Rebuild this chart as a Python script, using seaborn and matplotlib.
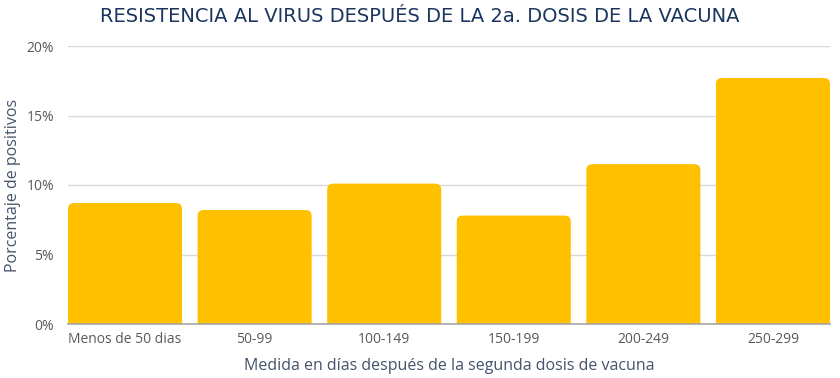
import numpy as np
import pandas as pd
import matplotlib
matplotlib.use("Agg")
import matplotlib.pyplot as plt
import seaborn as sns
from matplotlib.patches import FancyBboxPatch
from matplotlib.ticker import PercentFormatter

# ----------------------------- data ------------------------------------
categories = ["Menos de 50 dias", "50-99", "100-149", "150-199", "200-249", "250-299"]
positivos = [8.7, 8.2, 10.1, 7.8, 11.5, 17.7]
y_ticks = [0, 5, 10, 15, 20]

TITLE = "RESISTENCIA AL VIRUS DESPUÉS DE LA 2a. DOSIS DE LA VACUNA"
XLABEL = "Medida en días después de la segunda dosis de vacuna"
YLABEL = "Porcentaje de positivos"

BAR_COLOR = "#FFC000"
TITLE_COLOR = "#1B355E"
LABEL_COLOR = "#44546A"
TICK_COLOR = "#595959"
BAR_WIDTH = 0.88

sns.set_theme(style="white")
plt.rcParams["font.family"] = ["Open Sans", "DejaVu Sans"]

df = pd.DataFrame({"rango": categories, "pct": positivos})

fig = plt.figure(figsize=(8.4, 3.78), dpi=100)
ax = fig.add_axes([68 / 840, 1 - 324 / 378, (830 - 68) / 840, (324 - 46) / 378])

sns.barplot(data=df, x="rango", y="pct", color=BAR_COLOR, width=BAR_WIDTH,
            saturation=1, ax=ax, zorder=3)

ax.set_ylim(0, 20)
# bars run flush to both ends of the plot area
ax.set_xlim(-BAR_WIDTH / 2, len(categories) - 1 + BAR_WIDTH / 2)

# swap plain rectangles for ones with rounded top corners
fig.canvas.draw()
bb = ax.get_window_extent()
px_x = bb.width / (ax.get_xlim()[1] - ax.get_xlim()[0])
px_y = bb.height / (ax.get_ylim()[1] - ax.get_ylim()[0])
radius = 6 / px_x
for p in list(ax.patches):
    x, w, h = p.get_x(), p.get_width(), p.get_height()
    fb = FancyBboxPatch((x, -2), w, h + 2,
                        boxstyle=f"round,pad=0,rounding_size={radius}",
                        mutation_aspect=px_x / px_y,
                        facecolor=BAR_COLOR, edgecolor="none", zorder=3)
    ax.add_patch(fb)
    p.remove()

ax.set_yticks(y_ticks)
ax.yaxis.set_major_formatter(PercentFormatter(decimals=0))
ax.grid(axis="y", color="#D9D9D9", linewidth=1, zorder=0)
ax.grid(axis="x", visible=False)
for s in ["top", "right", "left"]:
    ax.spines[s].set_visible(False)
ax.spines["bottom"].set_color("#A6A6A6")
ax.spines["bottom"].set_linewidth(1.2)
ax.spines["bottom"].set_zorder(4)

ax.tick_params(axis="both", length=0, labelsize=10, colors=TICK_COLOR)
ax.tick_params(axis="y", pad=10)
ax.tick_params(axis="x", pad=6)

ax.set_xlabel(XLABEL, fontsize=11.5, color=LABEL_COLOR, labelpad=8)
ax.set_ylabel(YLABEL, fontsize=11.5, color=LABEL_COLOR, labelpad=4)

fig.text(0.5, 1 - 16 / 378, TITLE, ha="center", va="center",
         fontsize=14, color=TITLE_COLOR, family=["DejaVu Sans"])

fig.savefig("out.png", dpi=100)
